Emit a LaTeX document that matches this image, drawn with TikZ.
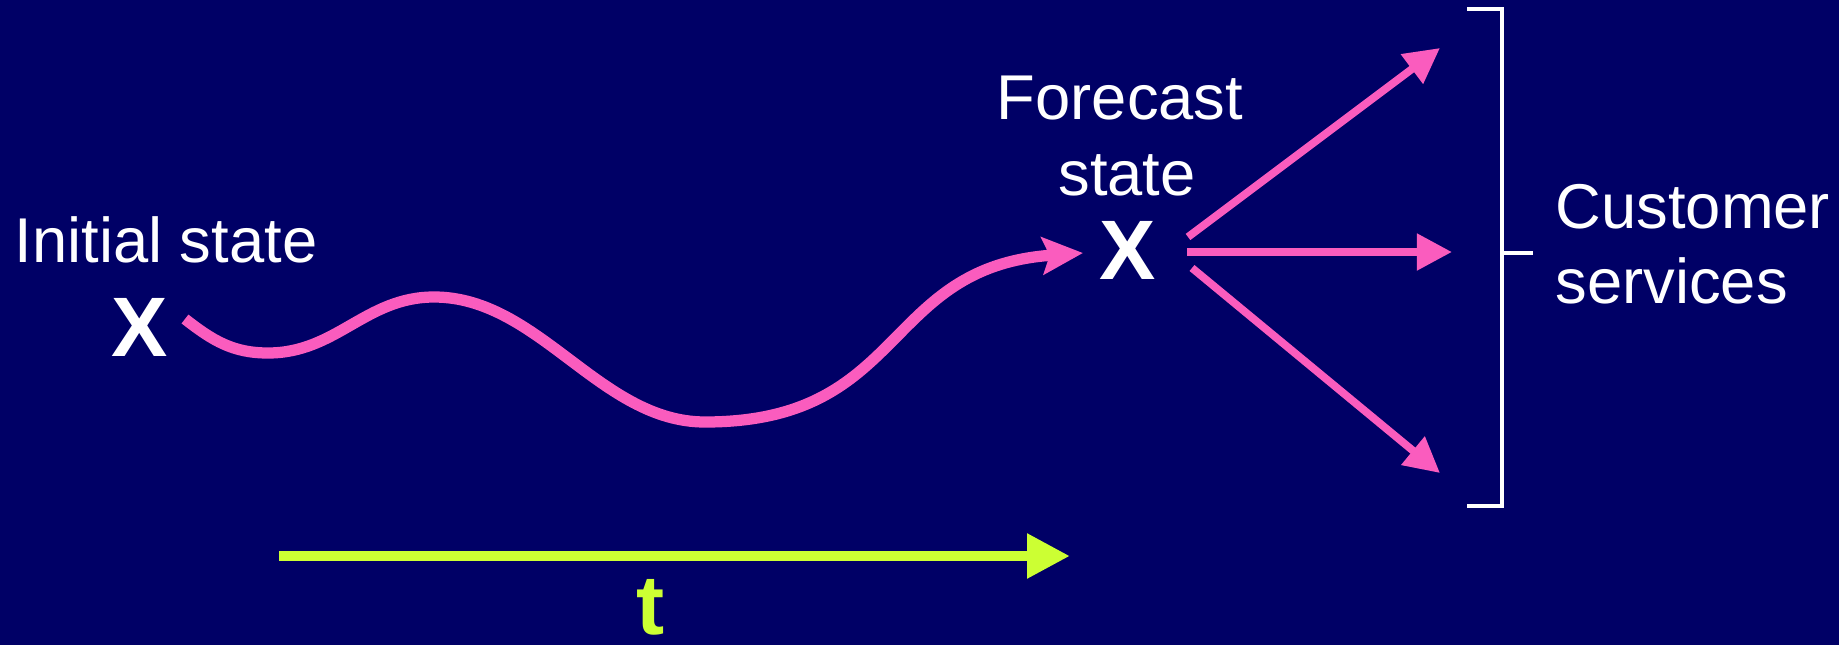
\documentclass[tikz,border=0pt]{standalone}
\usepackage{fontspec}
\setmainfont{Liberation Sans}
\usepackage{tikz}
\usetikzlibrary{arrows.meta}
\usepackage{xcolor}
\definecolor{navybg}{RGB}{0,0,102}
\definecolor{wavepink}{RGB}{250,92,190}
\definecolor{timegreen}{RGB}{204,255,51}
\tikzset{
  label text/.style={text=white,inner sep=0pt,font=\fontsize{18}{21}\selectfont},
  state mark/.style={text=white,inner sep=0pt,font=\fontsize{24}{28}\selectfont\bfseries},
  spread arrow/.style={wavepink,line width=2.2pt,-{Triangle[length=10pt,width=10pt]}},
}

\begin{document}
\begin{tikzpicture}[x=0.01cm,y=-0.01cm]
        \fill [navybg] (0,0) rectangle (1839,645);
        % states
        \node (Ilab) [label text,anchor=base west] at (14,262) {Initial state};
        \node (X0) [state mark] at (140,327) {X};
        \node (Flab) [label text,anchor=base] at (1120,119) {Forecast};
        \node (Slab) [label text,anchor=base] at (1127,195) {state};
        \node (X1) [state mark] at (1128,250) {X};
        % wave from initial to forecast state
        \coordinate (ws) at (185,319);
        \coordinate (w1) at (268,353);
        \coordinate (w2) at (434,297);
        \coordinate (w3) at (705,422);
        \coordinate (we) at (1083,253);
        \draw [wavepink,line width=3.2pt,-{Stealth[length=11.5pt,width=10.5pt,inset=2pt]}]
            (ws) to[out=-38,in=180] (w1) to[out=0,in=180] (w2)
            to[out=0,in=180,looseness=0.9] (w3) to[out=0,in=184,looseness=1.25] (we);
        % three services
        \coordinate (A1) at (1188,237);
        \coordinate (A2) at (1187,252);
        \coordinate (A3) at (1192,268);
        \coordinate (B1) at (1440,48);
        \coordinate (B2) at (1452,252);
        \coordinate (B3) at (1440,473);
        \draw [spread arrow] (A1) -- (B1);
        \draw [spread arrow] (A2) -- (B2);
        \draw [spread arrow] (A3) -- (B3);
        % bracket
        \coordinate (K1) at (1467,9);
        \coordinate (K2) at (1502,9);
        \coordinate (K3) at (1502,506);
        \coordinate (K4) at (1467,506);
        \coordinate (Km) at (1502,253);
        \coordinate (Kt) at (1533,253);
        \draw [white,line width=1.15pt] (K1) -- (K2) -- (K3) -- (K4);
        \draw [white,line width=1.15pt] (Km) -- (Kt);
        \node (Clab) [label text,anchor=base west] at (1555,228) {Customer};
        \node (Vlab) [label text,anchor=base west] at (1555,303) {services};
        % time axis
        \coordinate (T0) at (279,556);
        \coordinate (T1) at (1070,556);
        \draw [timegreen,line width=3pt,-{Triangle[length=12.2pt,width=12pt]}] (T0) -- (T1);
        \node (Tlab) [inner sep=0pt,anchor=base,text=timegreen,font=\fontsize{24}{28}\selectfont\bfseries] at (651,634) {t};
    \end{tikzpicture}
\end{document}
